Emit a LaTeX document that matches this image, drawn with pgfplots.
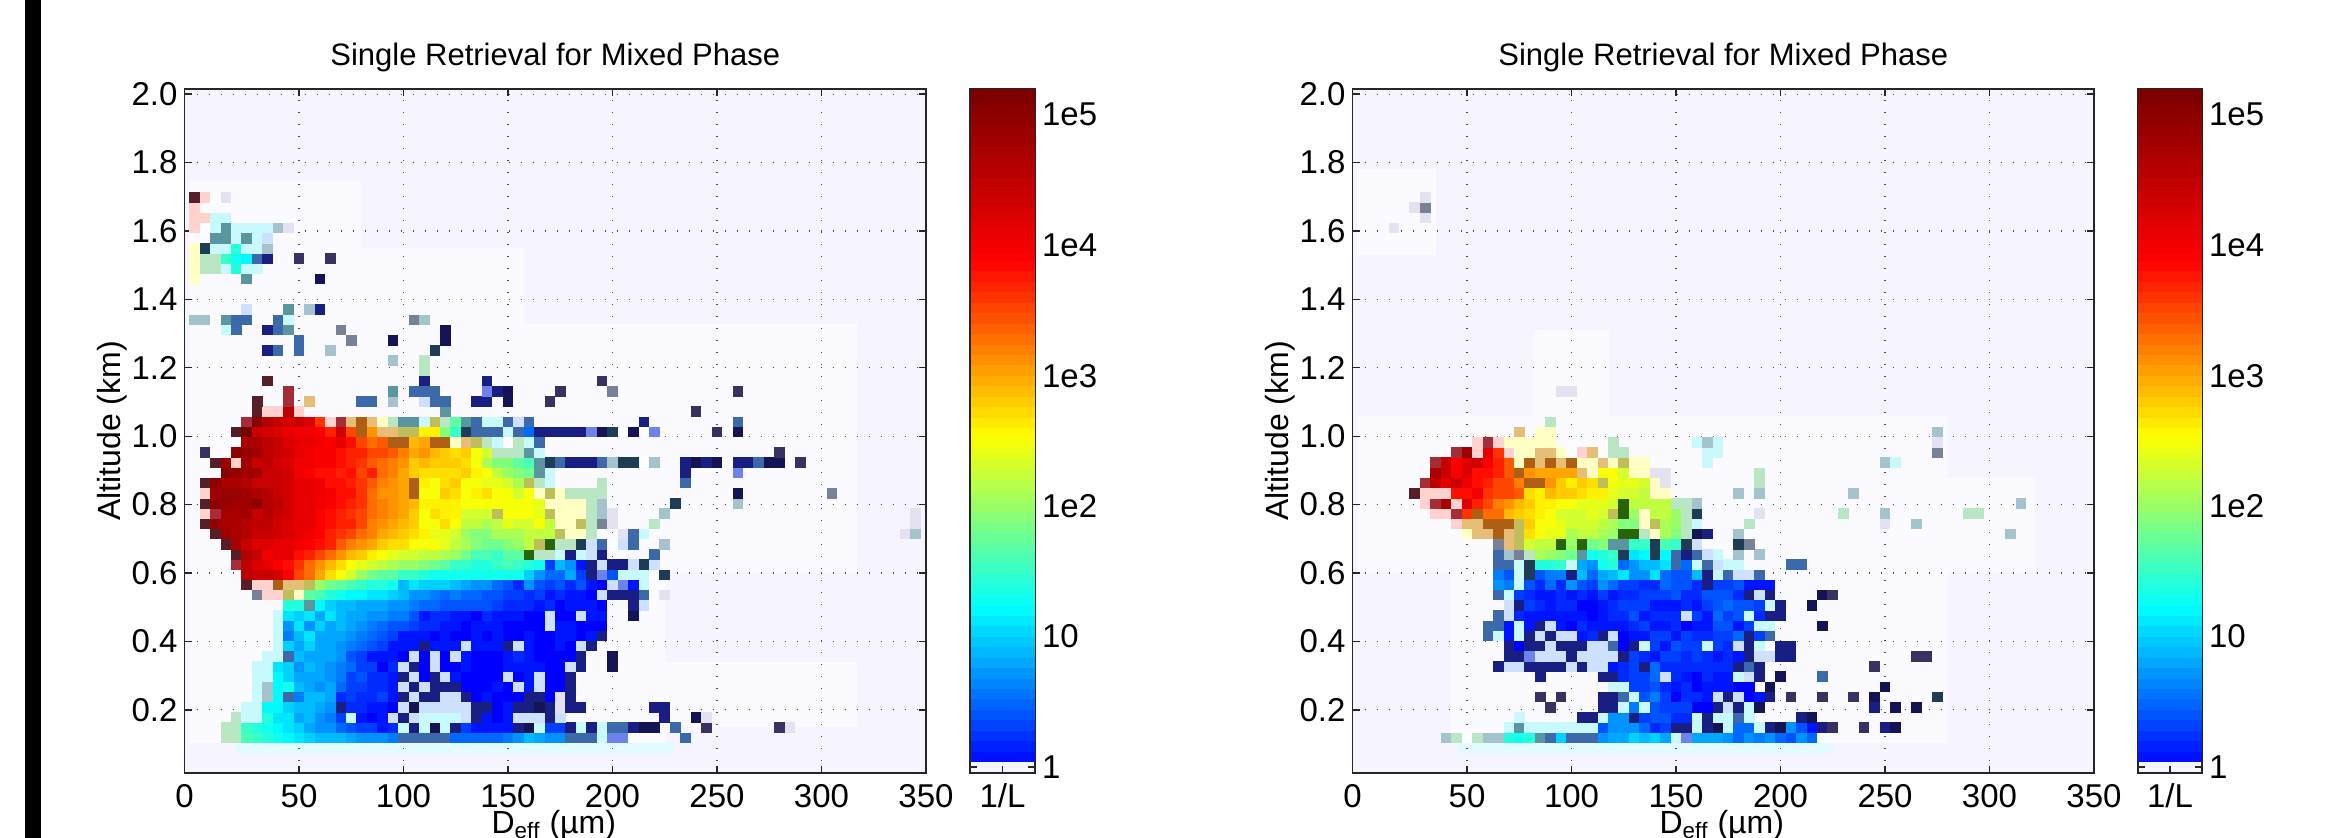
\documentclass[border=0pt]{standalone}
\usepackage{pgfplots}
\usepackage{pgfplotstable}
\pgfplotsset{compat=1.18}
\usepackage{fontspec}
\setmainfont{Liberation Sans}
\pgfdeclareplotmark{cell}{\pgfpathrectangle{\pgfpoint{-2.66pt}{-2.6pt}}{\pgfpoint{5.32pt}{5.2pt}}\pgfusepathqfill}
\pgfdeclareplotmark{band}{\pgfpathrectangle{\pgfpoint{-16pt}{-2.7pt}}{\pgfpoint{32pt}{5.4pt}}\pgfusepathqfill}
\definecolor{bgc}{RGB}{246,244,254}
\definecolor{maskc}{RGB}{250,250,255}
\definecolor{bandc}{RGB}{225,250,255}
\pgfplotsset{
 colormap={cm}{rgb255(10)=(40,100,10) rgb255(20)=(40,100,10) rgb255(30)=(175,95,20) rgb255(40)=(190,190,90) rgb255(50)=(230,190,120) rgb255(60)=(165,45,55) rgb255(70)=(110,130,235) rgb255(80)=(85,30,40) rgb255(90)=(255,255,195) rgb255(100)=(185,230,195) rgb255(110)=(255,210,205) rgb255(120)=(120,130,150) rgb255(130)=(228,226,240) rgb255(140)=(253,253,255) rgb255(150)=(205,225,255) rgb255(160)=(200,250,253) rgb255(170)=(165,195,205) rgb255(180)=(90,150,160) rgb255(190)=(60,105,170) rgb255(200)=(30,60,85) rgb255(210)=(55,50,95) rgb255(220)=(25,30,130) rgb255(230)=(20,20,85) rgb255(240)=(0,0,255) rgb255(362)=(0,255,255) rgb255(493)=(255,255,0) rgb255(627)=(255,0,0) rgb255(760)=(120,0,0)},
 base/.style={scale only axis,width=370.75pt,height=342pt,xmin=-4.8,xmax=350,ymin=0.0155,ymax=2.015,
  xtick={-4.8,50,100,150,200,250,300,350},xticklabels={0,50,100,150,200,250,300,350},ytick={0.2,0.4,...,2.0},yticklabel style={/pgf/number format/fixed,/pgf/number format/fixed zerofill,/pgf/number format/precision=1},
  /pgf/number format/assume math mode=true,
  tick align=inside,major tick length=3.5pt,axis line style={line width=0.8pt,black!85},every tick/.style={black!85,line width=0.7pt},
  grid=major,grid style={black!70,line width=0.6pt,dash pattern=on 0.6pt off 5.4pt},axis on top,
  axis background/.style={fill=bgc},
  title={Single Retrieval for Mixed Phase},title style={at={(axis description cs:0.5,1)},yshift=-1pt,font=\fontsize{15.5}{20}\selectfont},
  xlabel={D$_{\mathrm{eff}}$ (µm)},xlabel style={at={(axis description cs:0.498,0)},anchor=north,yshift=-15pt},
  ylabel={Altitude (km)},ylabel style={at={(axis description cs:0,0.5)},anchor=south,yshift=25pt},
  tick label style={font=\fontsize{16.5}{20}\selectfont},xticklabel style={yshift=-2pt},label style={font=\fontsize{16}{20}\selectfont},
  point meta min=-23,point meta max=52,colormap name=cm},
 cb/.style={scale only axis,width=32.5pt,height=342pt,xmin=0,xmax=1,ymin=-0.045,ymax=5.197,xtick={0.5},xticklabels={1/L},ytick={0,1,2,3,4,5},yticklabels={1,10,1e2,1e3,1e4,1e5},yticklabel pos=right,
  tick align=inside,major tick length=3.5pt,axis line style={line width=0.8pt,black!85},every tick/.style={black!85,line width=0.7pt},axis on top,
  tick label style={font=\fontsize{16.5}{20}\selectfont},xticklabel style={yshift=-2pt},axis background/.style={fill=bgc},colormap name=cm,point meta min=-2.3,point meta max=5.2},
 cellp/.style={scatter,only marks,mark=cell,scatter/use mapped color={fill=mapped color,draw=none},point meta=explicit,forget plot},
}
\newcount\cx
\newcommand\R[3]{\cx=#2\relax\def\tb{}\pgfplotsforeachungrouped\myv in{#3}{\edef\tb{\tb(\the\cx,#1)[\myv]}\advance\cx by 5\relax}\edef\tmp{\noexpand\addplot[cellp] coordinates{\tb};}\tmp}
\pgfplotstableread[header=false]{
0.5 0.08
0.5 0.16
0.5 0.24
0.5 0.32
0.5 0.40
0.5 0.48
0.5 0.56
0.5 0.64
0.5 0.72
0.5 0.80
0.5 0.88
0.5 0.96
0.5 1.04
0.5 1.12
0.5 1.20
0.5 1.28
0.5 1.36
0.5 1.44
0.5 1.52
0.5 1.60
0.5 1.68
0.5 1.76
0.5 1.84
0.5 1.92
0.5 2.00
0.5 2.08
0.5 2.16
0.5 2.24
0.5 2.32
0.5 2.40
0.5 2.48
0.5 2.56
0.5 2.64
0.5 2.72
0.5 2.80
0.5 2.88
0.5 2.96
0.5 3.04
0.5 3.12
0.5 3.20
0.5 3.28
0.5 3.36
0.5 3.44
0.5 3.52
0.5 3.60
0.5 3.68
0.5 3.76
0.5 3.84
0.5 3.92
0.5 4.00
0.5 4.08
0.5 4.16
0.5 4.24
0.5 4.32
0.5 4.40
0.5 4.48
0.5 4.56
0.5 4.64
0.5 4.72
0.5 4.80
0.5 4.88
0.5 4.96
0.5 5.04
0.5 5.12
0.5 5.157
}\bandtab
\begin{document}
\begin{tikzpicture}[x=1pt,y=1pt]
\useasboundingbox (0,0) rectangle (1169.5,419);
\fill[black] (12.5,0) rectangle (20.5,419);
\begin{axis}[base,at={(92.25pt,32.5pt)},anchor=south west]
\addplot[draw=none,fill=maskc,forget plot] coordinates {(-2.5,1.745)(80,1.745)(80,1.55)(158,1.55)(158,1.33)(317,1.33)(317,0.60)(225,0.60)(225,0.34)(317,0.34)(317,0.15)(225,0.15)(225,0.103)(-2.5,0.103)};
\addplot[draw=none,fill=bandc,forget plot] coordinates {(20,0.103)(230,0.103)(230,0.075)(20,0.075)};
\R{.118}{15}{-14,-14,16,15,14,13,12,11,10,9,9,9,8,7,7,7,6,-5,-5,-5,-5,-5,5,5,5,5,5,6,7,9,8,7,7,-5,-5,-5,-8,-17,-17}
\R{.118}{235}{-5}
\R{.148}{15}{-14,-14,15,14,13,12,11,10,8,7,7,5,4,3,3,1,2,-8,-2,-8,-1,-8,-2,3,1,1,1,1,-2,-1,-8,3,3,-2,-8,-2,-8,-5,-5,-2,-1,-1}
\R{.148}{230}{-5}\R{.148}{245}{-3}\R{.148}{280}{-3,-11}
\R{.178}{20}{-14,-8,-8,14,11,11,8,9,7,6,3,-8,1,0,1,-9,-2,-9,-8,-8,-8,-8,-9,-2,1,0,1,-9,-9,-9,-2,-9}
\R{.178}{225}{-2}\R{.178}{240}{-1,-11}
\R{.207}{25}{-8,-8,12,12,10,9,9,8,7,-2,2,2,1,1,0,-9,-1,-9,-9,-9,-9,-9,-2,-2,0,1,-2,-2,-1,-2,-11,-2,-2}
\R{.207}{220}{-2,-2}
\R{.237}{30}{-8,-7,12,-5,6,9,9,8,2,3,2,2,3,1,-2,-9,-2,-2,-9,-9,-2,0,1,0,0,0,-2,-2,0,-11,-2}
\R{.267}{30}{-8,-7,12,13,9,8,7,8,5,3,3,2,2,1,-9,-2,-9,-2,-2,-2,0,0,0,1,0,-9,1,-9,0,0,-2}
\R{.297}{30}{-8,-8,12,10,8,8,8,7,6,3,4,2,2,1,-2,-9,0,-2,-9,1,0,0,0,0,-9,0,1,-9,0,0,-2}
\R{.327}{30}{-8,-8,11,10,7,9,8,7,6,5,3,3,0,2,-9,-2,0,-9,0,0,1,0,0,0,1,1,1,1,0,0,-9,-2}
\R{.327}{200}{-1}
\R{.356}{35}{-8,-8,-5,9,8,8,8,7,4,3,1,1,1,0,-9,0,-9,0,-9,1,0,0,0,1,2,1,0,0,0,0,-2}
\R{.356}{200}{-1}
\R{.386}{40}{-8,10,8,10,8,8,7,6,5,4,3,1,1,1,-2,1,1,1,-9,1,1,1,-2,-9,1,0,0,1,0,-9,-2}
\R{.416}{40}{-8,6,9,11,8,8,8,7,6,5,4,3,1,1,1,0,1,0,0,1,0,1,0,0,1,0,0,1,1,0,1,-2}
\R{.446}{40}{-8,7,11,7,10,8,9,8,7,6,5,4,4,3,2,2,1,1,0,1,1,1,0,0,0,0,-9,1,1,0,0,0}
\R{.476}{40}{-8,11,10,11,8,11,9,8,8,7,7,6,6,4,1,2,2,1,1,0,2,1,1,1,0,0,-9,0,0,-9,1,1}
\R{.476}{210}{-1}
\R{.505}{45}{14,14,-6,12,10,9,9,8,8,8,7,7,6,5,5,4,4,4,4,4,3,2,2,2,1,2,0,1,1,1,0}
\R{.505}{210}{-2,-9}
\R{.535}{30}{-12,-13,-13,-20,-15,17,16,14,13,12,12,11,11,10,9,7,7,6,5,6,5,5,4,4,3,3,2,3,1,2,1,1,0,-9,-2,-2,-2,-5}
\R{.535}{225}{-11}
\R{.565}{25}{-16,-13,-13,-21,-19,-19,-20,20,18,17,16,15,14,14,13,9,11,10,10,10,9,8,7,7,5,4,2,7,4,3,4,2,4,1,0,-9,-17,1,-8}
\R{.595}{25}{45,44,44,43,39,35,33,30,27,25,23,20,18,17,17,15,15,14,13,13,13,13,13,13,13,13,13,10,7,5,5,8,3,-2,-17,4,-8,-8,-8,-10,-4}
\R{.625}{20}{-18,45,42,41,39,38,36,33,31,29,27,25,24,23,22,21,20,20,19,18,17,15,15,14,14,15,16,15,14,13,3,9,7,1,-2,-9,-2,-2,-9,-4,-9}
\R{.654}{20}{-16,46,44,40,41,41,38,37,35,33,31,29,28,26,25,24,23,23,22,22,21,20,18,16,16,15,17,17,-23,-14,-14,-8,-2,-8,-9,-2}
\R{.654}{220}{-5}
\R{.684}{15}{-16,47,44,42,42,41,41,40,39,38,37,34,32,31,30,28,27,27,25,25,25,24,22,21,19,18,18,19,20,22,-20,-23,-14,-14,-4,-9,-5,-10,-9,-5}
\R{.684}{225}{-7}
\R{.714}{10}{-16,48,47,46,44,44,43,42,41,40,39,37,36,35,33,32,30,29,28,27,26,24,24,23,20,19,19,21,21,21,22,22,22,-20,-15,-15,-14}
\R{.714}{205}{-11,-5,-8}\R{.714}{340}{-11,-7}
\R{.744}{5}{-16,49,47,47,46,45,45,43,42,41,41,39,38,37,37,35,32,31,30,29,28,25,25,27,25,22,22,21,22,24,23,23,25,22,-15,-15,-20,-14,-12,-11}
\R{.744}{220}{-14}\R{.744}{345}{-11}
\R{.774}{5}{-13,-18,47,47,48,44,46,44,43,41,41,39,38,37,36,35,33,32,31,30,28,25,27,26,26,23,23,23,-20,25,25,25,24,-20,-15,-15,-15,-14,-7,-11}
\R{.774}{225}{-7}\R{.774}{345}{-11}
\R{.803}{5}{-16,50,49,48,48,50,46,45,43,41,41,40,39,38,37,36,33,32,31,30,29,26,26,26,26,25,25,25,25,25,25,25,24,-15,-15,-15,-15,-14,-7}
\R{.803}{230}{-4}\R{.803}{260}{-7}
\R{.833}{5}{-13,48,49,49,48,47,46,44,43,41,41,40,39,38,38,36,33,31,31,30,-21,25,25,28,27,25,26,27,25,25,23,25,-15,-20,-15,-14,-14,-14,-14}
\R{.833}{260}{-1}\R{.833}{305}{-12}
\R{.863}{5}{-16,50,47,47,46,44,44,44,43,41,41,40,38,38,37,36,34,32,31,30,-21,26,25,27,28,25,25,24,24,23,21,-20,-14,-8}
\R{.863}{195}{-14}\R{.863}{235}{-5}
\R{.893}{15}{50,49,48,48,44,44,43,40,39,38,38,37,38,35,37,33,32,30,28,27,27,27,27,28,26,25,22,20,19,18,-6,-8}
\R{.893}{235}{-2}\R{.893}{260}{-17}
\R{.923}{10}{-16,48,-13,48,44,45,43,42,40,40,39,39,38,37,36,34,33,32,31,28,29,28,28,28,27,25,21,19,19,17,16,-6,-4,-5,-2,-2,-2,-5,-7,-4,-4,-10,-7}
\R{.923}{235}{-2,-1,-2,-1,-10,-2,-2,-5,-1,-1,-10,-3}
\R{.952}{5}{-3,-10,-10,50,49,48,45,44,43,41,40,39,39,38,37,37,35,35,34,32,30,31,29,28,27,28,25,23,-14,-14,-14,-6,-8}
\R{.952}{280}{-3}
\R{.982}{25}{47,47,45,44,42,41,41,40,39,41,38,35,33,34,-21,-21,29,30,-21,-21,-15,-19,-20,-14,-8,-10,-14,-8,-5}
\R{1.012}{20}{-16,52,44,43,42,41,40,40,39,37,43,35,-21,31,-19,-19,-20,-20,26,26,19,15,-4,-5,-5,-5,-8,-5,5,-2,-2,-2,-2,-2,-17,-1,-4,-10,-1,-10,-17}
\R{1.012}{250}{-3}\R{1.012}{260}{-1}
\R{1.042}{25}{-18,50,46,44,43,44,42,36,-13,-18,-19,-21,-19,-15,-14,-6,-6,-8,-20,-14,17,-6,-5,-8,-8,-5,-9,-5}
\R{1.042}{215}{-2}\R{1.042}{260}{-5}
\R{1.072}{30}{-16,-13,-13,45,-13}\R{1.072}{120}{-6}\R{1.072}{240}{-3}
\R{1.102}{30}{-16}\R{1.102}{45}{-18}\R{1.102}{55}{-19}\R{1.102}{80}{-5,-5}\R{1.102}{95}{-7}\R{1.102}{110}{-9,-5,-5}\R{1.102}{135}{-2,-2}\R{1.102}{150}{-1}\R{1.102}{170}{-3}
\R{1.131}{45}{-18}\R{1.131}{95}{-6}\R{1.131}{105}{-5,-5,-5}\R{1.131}{140}{-17,-2,-1}\R{1.131}{175}{-3}\R{1.131}{200}{-12}\R{1.131}{260}{-3}
\R{1.161}{35}{-16}\R{1.161}{110}{-2}\R{1.161}{140}{-2}\R{1.161}{195}{-3}
\R{1.191}{110}{-14}
\R{1.221}{95}{-7}\R{1.221}{110}{-14}
\R{1.251}{35}{-2,-5}\R{1.251}{50}{-5}\R{1.251}{65}{-7}\R{1.251}{115}{-4}
\R{1.280}{50}{-5}\R{1.280}{75}{-12}\R{1.280}{95}{-1}\R{1.280}{120}{-1}
\R{1.310}{15}{-8,-5}\R{1.310}{35}{-2,-5,-6}\R{1.310}{70}{-12}\R{1.310}{120}{-1}
\R{1.340}{0}{-7,-7}\R{1.340}{15}{-6,-5,-5}\R{1.340}{40}{-5,-8}\R{1.340}{105}{-12,-7}
\R{1.370}{25}{-9}\R{1.370}{45}{-6}\R{1.370}{55}{-7,-2}
\R{1.459}{0}{-15}\R{1.459}{25}{-6}\R{1.459}{60}{-1}
\R{1.489}{0}{-15,-14,-14,-8,14,-8,-8}
\R{1.519}{0}{-15,-14,-14,15,13,12,-5,-2}\R{1.519}{50}{-3}\R{1.519}{65}{-3}
\R{1.549}{0}{-15,-4,-8,-8,14,-8,-8,-7}
\R{1.578}{10}{-6,-6,-8,-6,-8,-9}
\R{1.608}{0}{-13,-10,-8,-6,-8,-8,-8,-8,-7,-11}
\R{1.638}{0}{-13,-13,-8,-8}
\R{1.668}{0}{-13}
\R{1.698}{0}{-16,-13,-10,-11}
\end{axis}
\begin{axis}[cb,at={(485pt,32.5pt)},anchor=south west]
\addplot[scatter,only marks,mark=band,scatter/use mapped color={fill=mapped color,draw=none},point meta=y] table[x index=0,y index=1]{\bandtab};
\end{axis}
\begin{axis}[base,at={(676.25pt,32.5pt)},anchor=south west]
\addplot[draw=none,fill=maskc,forget plot] coordinates {(-2.5,1.78)(35,1.78)(35,1.53)(-2.5,1.53)};
\addplot[draw=none,fill=maskc,forget plot] coordinates {(-2.5,1.06)(82,1.06)(82,1.31)(118,1.31)(118,1.06)(280,1.06)(280,0.88)(322,0.88)(322,0.60)(280,0.60)(280,0.103)(42,0.103)(42,0.60)(-2.5,0.60)};
\addplot[draw=none,fill=bandc,forget plot] coordinates {(45,0.103)(225,0.103)(225,0.075)(45,0.075)};
\R{.118}{40}{-7,-14,-10,-14,-7,-7,14,13,14,-6,-5,10,-5,-5,-5,7,8,8,10,9,10,8,-8,-17,8,8,8,7,5,7,6,7,5,4,7,5}
\R{.148}{70}{-8,-6,-8,-8,-8,-8,-8,-8,-8,4,7,7,7,5,2,3,-2,-2,-8,-2,-1,-8,5,5,-8,-2,-1,7,4,1,-2,-3}
\R{.148}{240}{-3}\R{.148}{250}{-2,-1}
\R{.178}{75}{-8}\R{.178}{105}{-2,-2,-8,7,7,-2,3,4,4,2,2,-8,-2,-8,-8,-5,-8}\R{.178}{210}{-2,-1}
\R{.207}{90}{-3}\R{.207}{115}{-2,-2,-8,6,-8,4,3,3,3,0,0,-2,-9,-2,-8,-1}\R{.207}{245}{-2}\R{.207}{255}{-1}\R{.207}{265}{-1}
\R{.237}{85}{-3}\R{.237}{95}{-3}\R{.237}{115}{-2,-2,-5,-8,4,6,3,0,2,2,1,-9,-2,-9,0,1,-2}\R{.237}{205}{-3}\R{.237}{220}{-3}\R{.237}{235}{-3}\R{.237}{245}{-1}\R{.237}{275}{-4}
\R{.267}{120}{-8,-8,3,3,4,2,1,2,0,1,1,1,0,0}\R{.267}{195}{-1}\R{.267}{250}{-1}
\R{.297}{85}{-2}\R{.297}{115}{-2,-2,2,3,3,5,-9,2,1,0,2,1,1,-8,-9,-2}\R{.297}{200}{-1}\R{.297}{220}{-5}
\R{.327}{65}{-2,-9,-9,-2,-2,-2,-2,-9,-2,-9,-9,1,2,3,-2,5,2,2,2,2,2,2,2,-2,-5,-2}\R{.327}{245}{-3}
\R{.356}{70}{-2,-2,-17,-9,-9,-9,-2,-9,-9,-9,-9,-2,3,2,1,3,3,2,3,2,1,2,1,-2,-9,-9,-2,-2}\R{.356}{265}{-3,-3}
\R{.386}{70}{-2,0,-2,-2,-9,-2,-2,-2,-9,-9,-5,0,-2,-8,3,1,4,3,3,-8,3,2,-9,-2,-8,-10,-2,-2}
\R{.416}{60}{-5,-8,1,-8,-2,-9,-2,-9,-9,1,2,-2,-9,0,1,1,3,3,1,3,2,2,3,3,5,-2,3,-5}
\R{.446}{60}{-5,-5,1,-8,1,-2,-9,1,0,2,1,1,1,1,2,3,1,1,2,0,1,1,4,4,1,3,-8,-8}\R{.446}{220}{-1}
\R{.476}{65}{-5,-9,2,1,1,1,1,1,1,0,1,2,2,4,1,2,2,2,-9,3,1,5,3,4,-8,2,-2,-2}
\R{.505}{70}{-9,-2,3,2,1,2,2,0,0,1,2,3,3,3,1,1,1,2,1,3,4,5,4,4,3,-8,-2}\R{.505}{215}{-1}
\R{.535}{65}{-5,-8,3,2,1,1,2,1,2,1,3,1,2,2,3,3,3,4,2,2,4,4,4,2,-2,-9,-2}\R{.535}{220}{-1,-3}
\R{.565}{65}{7,6,-8,4,2,5,2,7,4,3,7,5,3,3,2,2,5,4,4,2,-2,3,3,4,1,1,1}
\R{.595}{65}{6,4,-8,-4,4,6,6,-2,9,5,8,9,11,7,7,11,5,4,4,9,-2,-8,-5,-9,-9,-5}
\R{.625}{65}{-5,-5,-8,-4,14,14,15,-8,8,7,13,14,5,7,9,9,11,-5,5,-8,-5,-9,-8,-8}\R{.625}{205}{-5,-5}
\R{.654}{65}{-5,-7,-12,-14,21,20,19,18,-6,13,14,15,-4,11,12,-4,12,-5,-2,-5,-9,-8}\R{.654}{180}{-7}\R{.654}{190}{-7}
\R{.684}{65}{-12,-19,-20,23,22,22,-23,20,-23,18,19,-6,-6,15,15,-4,16,15,-4,-9}\R{.684}{180}{-4,-12}
\R{.714}{50}{-15,-19,-19,-21,-19,-20,27,25,24,24,21,22,22,21,20,-23,-23,-14,-15,21,19,-14,-1,-2}\R{.714}{180}{-7}\R{.714}{310}{-7}
\R{.744}{45}{-13,-19,-19,-21,-21,-21,-20,28,25,25,24,23,23,23,22,21,19,19,-15,-20,21,20,-14,-8}\R{.744}{185}{-14}\R{.744}{250}{-11}\R{.744}{265}{-7}
\R{.774}{35}{-13,-13,-18,36,-21,33,33,29,28,27,26,25,23,23,23,24,23,-20,-23,20,-15,22,22,20,-14,-4}\R{.774}{190}{-11}\R{.774}{230}{-14}\R{.774}{250}{-7}\R{.774}{290}{-14,-14}
\R{.803}{30}{-13,-18,47,-13,42,37,35,32,31,29,28,26,26,25,25,24,24,24,23,-23,22,22,22,22,-14,-14,-7}\R{.803}{315}{-7}
\R{.833}{25}{-16,-13,-13,-13,38,38,40,36,35,35,34,27,26,29,28,28,27,26,26,24,23,23,22,-15,-15}\R{.833}{180}{-7}\R{.833}{190}{-7}\R{.833}{235}{-7}
\R{.863}{30}{-18,45,41,44,40,38,37,35,35,32,-21,-21,31,28,26,28,27,-20,25,24,24,23,-15,-11}\R{.863}{190}{-14}
\R{.893}{35}{47,44,39,42,38,38,37,34,-21,31,30,30,30,30,-19,-15,25,25,23,-15,-15,-11,-11}\R{.893}{190}{-14}
\R{.923}{35}{-18,44,39,42,43,39,37,34,-15,-21,-19,-21,-19,-21,-15,-15,-19,-15,-20,-15,-15}\R{.923}{165}{-8}\R{.923}{250}{-7,-8}
\R{.952}{45}{-18,48,-13,41,36,-13,-15,-15,-19,-19,-15,-10,-13,-19,-10,-14,-14}\R{.952}{165}{-8,-8}\R{.952}{275}{-12}
\R{.982}{55}{-13,-18,-13,-15,-15,-15,-15,-15}\R{.982}{120}{-14}\R{.982}{160}{-8,-7,-8}\R{.982}{275}{-11}
\R{1.012}{75}{-19}\R{1.012}{85}{-15,-15}\R{1.012}{275}{-7}
\R{1.042}{90}{-14}
\R{1.131}{95}{-11,-11}
\R{1.608}{15}{-11}
\R{1.638}{30}{-11}
\R{1.668}{25}{-11,-12}
\R{1.698}{30}{-11}
\end{axis}
\begin{axis}[cb,at={(1069pt,32.5pt)},anchor=south west,width=32pt]
\addplot[scatter,only marks,mark=band,scatter/use mapped color={fill=mapped color,draw=none},point meta=y] table[x index=0,y index=1]{\bandtab};
\end{axis}
\end{tikzpicture}
\end{document}
